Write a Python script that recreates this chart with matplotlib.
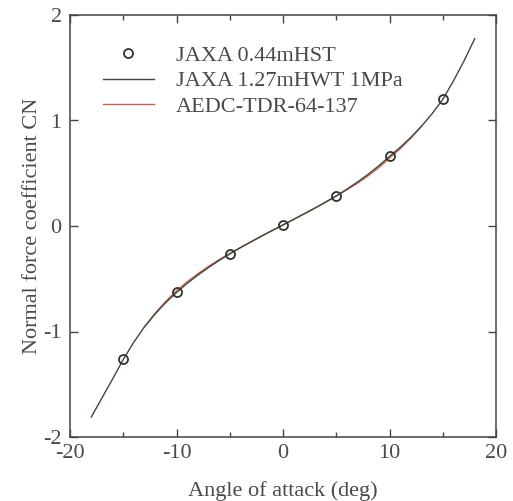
import matplotlib
matplotlib.use("Agg")
import matplotlib.pyplot as plt
from matplotlib.ticker import MultipleLocator

plt.rcParams['font.family'] = ['Liberation Serif', 'DejaVu Serif']
plt.rcParams['axes.unicode_minus'] = False

# Wind tunnel data points (JAXA 0.44m HST)
hst_alpha = [-15, -10, -5, 0, 5, 10, 15]
hst_cn = [-1.265, -0.625, -0.262, 0.010, 0.285, 0.660, 1.205]

# JAXA 1.27m HWT 1MPa curve
hwt_alpha = [-18, -17, -16, -15, -14, -13, -12, -11, -10, -9, -8, -7, -6, -5, -4, -3, -2, -1,
             0, 1, 2, 3, 4, 5, 6, 7, 8, 9, 10, 11, 12, 13, 14, 15, 16, 17, 18]
hwt_cn = [-1.81, -1.63, -1.45, -1.265, -1.100, -0.955, -0.833, -0.725, -0.630, -0.544, -0.466,
          -0.394, -0.327, -0.265, -0.206, -0.150, -0.095, -0.042,
          0.010, 0.063, 0.116, 0.170, 0.226, 0.285, 0.349, 0.417, 0.491, 0.571, 0.660,
          0.745, 0.840, 0.945, 1.065, 1.200, 1.375, 1.565, 1.775]

# AEDC-TDR-64-137 curve
aedc_alpha = [-13, -12, -11, -10, -9, -8, -7, -6, -5, -4, -3, -2, -1, 0, 1, 2, 3, 4, 5, 6, 7, 8, 9, 10, 11, 12, 13]
aedc_cn = [-0.955, -0.826, -0.714, -0.614, -0.529, -0.453, -0.383, -0.319, -0.260, -0.204, -0.149,
           -0.095, -0.042, 0.010, 0.063, 0.116, 0.170, 0.226, 0.284, 0.344, 0.406, 0.476,
           0.554, 0.643, 0.732, 0.832, 0.945]

labels = ["JAXA 0.44mHST", "JAXA 1.27mHWT 1MPa", "AEDC-TDR-64-137"]

text_color = '#4a4a4a'
fig = plt.figure(figsize=(5.13, 5.01), dpi=100)
ax = fig.add_axes([70/513, 64/501, 426/513, 422/501])

l_red, = ax.plot(aedc_alpha, aedc_cn, color='#d0604f', lw=1.0, zorder=2)
l_grn, = ax.plot(hwt_alpha, hwt_cn, color='#3d4a3a', lw=1.0, zorder=3)
l_pts, = ax.plot(hst_alpha, hst_cn, 'o', ms=6.5, mfc='none', mec='#2e342e', mew=1.3, zorder=4)

ax.set_xlim(-20, 20)
ax.set_ylim(-2, 2)
ax.xaxis.set_major_locator(MultipleLocator(10))
ax.xaxis.set_minor_locator(MultipleLocator(5))
ax.yaxis.set_major_locator(MultipleLocator(1))
ax.tick_params(which='both', direction='in', top=True, right=True, colors='#444444',
               labelcolor=text_color, labelsize=16, width=1.0)
ax.tick_params(which='major', length=6, pad=5)
ax.tick_params(which='minor', length=3.5)
ax.tick_params(axis='y', pad=6)
for s in ax.spines.values():
    s.set_color('#444444')
    s.set_linewidth(1.1)

ax.set_xlabel("Angle of attack (deg)", fontsize=16, color=text_color, labelpad=13)
ax.set_ylabel("Normal force coefficient CN", fontsize=16, color=text_color, labelpad=1)

leg = ax.legend([l_pts, l_grn, l_red], labels, loc='upper left',
                bbox_to_anchor=(0.077, 0.928), frameon=False, fontsize=16,
                handlelength=2.3, handletextpad=1.0, labelspacing=0.22,
                borderpad=0, borderaxespad=0)
for t in leg.get_texts():
    t.set_color(text_color)

fig.savefig("out.png", dpi=100)
